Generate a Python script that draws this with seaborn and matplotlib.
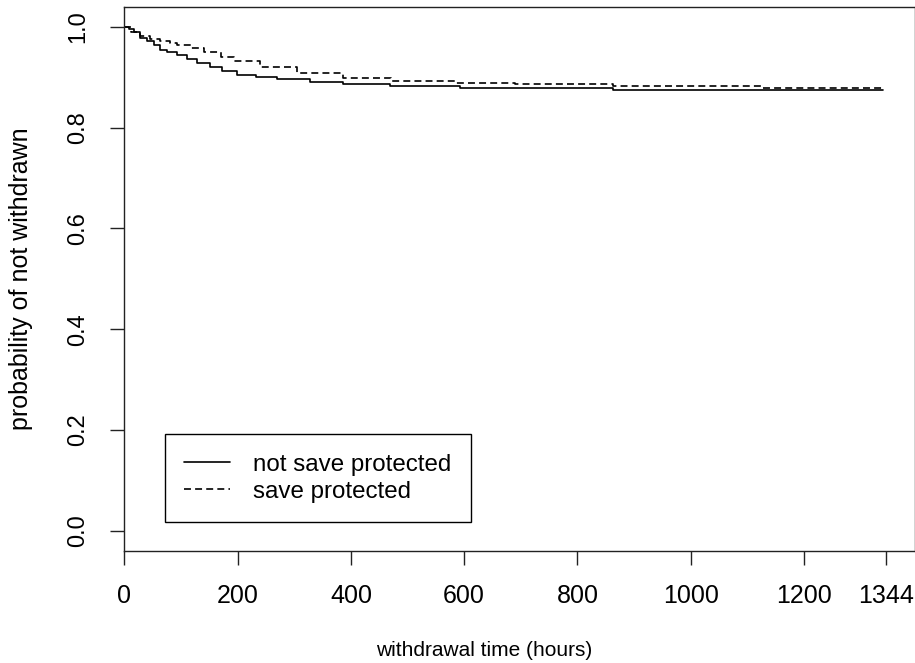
import matplotlib
matplotlib.use("Agg")
import matplotlib.pyplot as plt
import numpy as np
import pandas as pd
import seaborn as sns

# Kaplan-Meier style survival estimates (step changes) for each group
not_save_time = [0, 8, 18, 28, 40, 52, 63, 75, 93, 110, 128, 152, 172, 199,
                 232, 270, 328, 386, 469, 593, 862, 1340]
not_save_surv = [1.0, 0.996, 0.990, 0.978, 0.972, 0.964, 0.955, 0.950, 0.944,
                 0.937, 0.929, 0.921, 0.913, 0.905, 0.900, 0.896, 0.891,
                 0.886, 0.883, 0.878, 0.875, 0.875]

save_time = [0, 12, 28, 45, 63, 80, 93, 118, 140, 170, 193, 240, 305, 386,
             470, 584, 690, 862, 1125, 1340]
save_surv = [1.0, 0.990, 0.981, 0.976, 0.971, 0.967, 0.964, 0.958, 0.951,
             0.940, 0.932, 0.921, 0.908, 0.898, 0.893, 0.888, 0.886, 0.883,
             0.878, 0.878]

group_labels = ["not save protected", "save protected"]
x_ticks = [0, 200, 400, 600, 800, 1000, 1200, 1344]
y_ticks = [0.0, 0.2, 0.4, 0.6, 0.8, 1.0]
x_title = "withdrawal time (hours)"
y_title = "probability of not withdrawn"

df = pd.concat([
    pd.DataFrame({"time": not_save_time, "surv": not_save_surv, "group": group_labels[0]}),
    pd.DataFrame({"time": save_time, "surv": save_surv, "group": group_labels[1]}),
], ignore_index=True)

sns.set_style("white")
plt.rcParams["font.family"] = ["Liberation Sans", "DejaVu Sans"]
plt.rcParams["lines.scale_dashes"] = False
plt.rcParams["text.color"] = "black"
plt.rcParams["axes.labelcolor"] = "black"
plt.rcParams["xtick.color"] = "black"
plt.rcParams["ytick.color"] = "black"

fig = plt.figure(figsize=(9.15, 6.63), dpi=100)
ax = fig.add_axes([124.3 / 915, 112 / 663, 790.2 / 915, 544.3 / 663])

sns.lineplot(data=df, x="time", y="surv", style="group",
             style_order=group_labels,
             dashes={group_labels[0]: "", group_labels[1]: (5, 3)},
             color="black", linewidth=1.2, drawstyle="steps-post",
             estimator=None, sort=False, legend=False, ax=ax)

ax.set_xlim(0, 1395)
ax.set_ylim(-0.04, 1.04)

ax.set_xticks(x_ticks)
ax.set_xticklabels([str(t) for t in x_ticks], fontsize=18)
ax.set_yticks(y_ticks)
ax.set_yticklabels([f"{t:.1f}" for t in y_ticks], fontsize=17,
                   rotation=90, va="center")
ax.tick_params(axis="both", direction="out", length=10, width=1.0,
               color="#222222", labelcolor="black", bottom=True, left=True)
ax.tick_params(axis="x", pad=14)
ax.tick_params(axis="y", pad=15)

for sp in ax.spines.values():
    sp.set_visible(True)
    sp.set_color("#222222")
    sp.set_linewidth(1.0)

ax.set_xlabel(x_title, fontsize=15, color="black")
ax.xaxis.set_label_coords(0.455, -0.165)
ax.set_ylabel(y_title, fontsize=18, color="black")
ax.yaxis.set_label_coords(-0.1155, 0.5)

lines = ax.get_lines()
leg = ax.legend(lines[:2], group_labels, loc="lower left",
                bbox_to_anchor=(0.0515, 0.0533), borderaxespad=0,
                fontsize=17.4, frameon=True, fancybox=False,
                edgecolor="black", handlelength=1.9, handletextpad=0.95,
                borderpad=0.8, labelspacing=0.2)
leg.get_frame().set_linewidth(1.0)
leg.get_frame().set_alpha(None)
for txt in leg.get_texts():
    txt.set_color("black")

fig.savefig("out.png", dpi=100, facecolor="white")
